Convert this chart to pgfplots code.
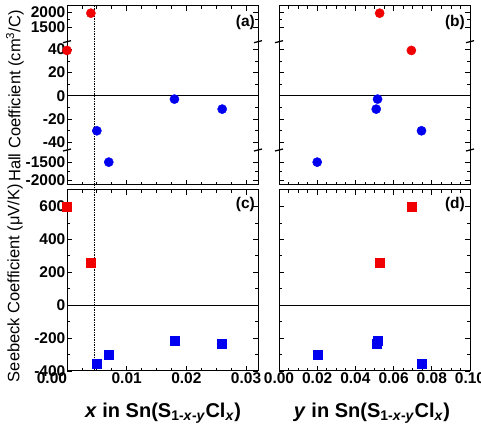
\documentclass[border=0pt]{standalone}
\usepackage{pgfplots}
\pgfplotsset{compat=1.18}
\usepackage{fontspec}
\setmainfont{Liberation Sans}
\definecolor{mred}{RGB}{240,0,0}
\definecolor{mblue}{RGB}{0,0,240}
\newcommand\tickfont{\fontsize{15.5}{16}\selectfont\bfseries}

\tikzset{
  brk/.style={line width=1.3pt},
  plab/.style={anchor=north east, inner sep=0pt, font=\tickfont},
}
\pgfplotsset{
  base/.style={scale only axis, width=191pt, clip=false, anchor=south west,
    tick align=inside, major tick length=5pt, minor tick length=3pt,
    tick style={black, line width=0.8pt},
    axis line style={line width=1pt},
    ticklabel style={font=\tickfont, inner sep=1.5pt},
    scaled x ticks=false, scaled y ticks=false,
    /pgf/number format/assume math mode=true,
    /pgf/number format/set thousands separator={},
  },
  frame/.style={base, ymin=0, ymax=1, ytick=\empty},
  seg/.style={base, xtick=\empty, axis line style={draw=none}, minor y tick num=1},
  xleft/.style={xmin=0, xmax=0.032, xtick={0,0.01,0.02,0.03}, minor x tick num=3},
  xright/.style={xmin=0, xmax=0.1, xtick={0,0.02,0.04,0.06,0.08,0.1}, minor x tick num=3},
  useg/.style={seg, height=35.7pt, ymin=990, ymax=2230, ytick={1500,2000}},
  mseg/.style={seg, height=108.3pt, ymin=-46.5, ymax=46.5, ytick={-40,-20,0,20,40}},
  lseg/.style={seg, height=35pt, ymin=-2125, ymax=-1153, ytick={-2000,-1500}},
  redcirc/.style={only marks, mark=*, mark size=4.6pt, draw=mred, fill=mred},
  bluecirc/.style={only marks, mark=*, mark size=4.6pt, draw=mblue, fill=mblue},
  redsq/.style={only marks, mark=square*, mark size=4.5pt, draw=mred, fill=mred},
  bluesq/.style={only marks, mark=square*, mark size=4.5pt, draw=mblue, fill=mblue},
}
\newcommand\breaks{%
  \draw[brk] ([xshift=-4pt,yshift=-1pt]rel axis cs:0,0.1955) -- ([xshift=4pt,yshift=1pt]rel axis cs:0,0.1955);
  \draw[brk] ([xshift=-4pt,yshift=-1pt]rel axis cs:1,0.1955) -- ([xshift=4pt,yshift=1pt]rel axis cs:1,0.1955);
  \draw[brk] ([xshift=-4pt,yshift=-1pt]rel axis cs:0,0.8006) -- ([xshift=4pt,yshift=1pt]rel axis cs:0,0.8006);
  \draw[brk] ([xshift=-4pt,yshift=-1pt]rel axis cs:1,0.8006) -- ([xshift=4pt,yshift=1pt]rel axis cs:1,0.8006);
}

\begin{document}
\begin{tikzpicture}
\useasboundingbox (0pt,0pt) rectangle (481pt,425pt);

% ---------- frames of top panels ----------
\begin{axis}[frame, xleft, at={(67pt,240pt)}, height=179pt, xticklabels={}]
  \draw[dash pattern=on 1.5pt off 1pt, line width=0.6pt] (axis cs:0.0046,0) -- (axis cs:0.0046,1);
  \breaks
  \node[plab] at ([xshift=-3pt,yshift=-9pt]rel axis cs:1,1) {(a)};
\end{axis}
\begin{axis}[frame, xright, at={(279pt,240pt)}, height=179pt, xticklabels={}]
  \breaks
  \node[plab] at ([xshift=-5pt,yshift=-9pt]rel axis cs:1,1) {(b)};
\end{axis}

% ---------- panel (a) segments ----------
\begin{axis}[useg, xleft, xtick=\empty, at={(67pt,383.3pt)}]
  \addplot[redcirc] coordinates {(0.004,1980)};
\end{axis}
\begin{axis}[mseg, xleft, xtick=\empty, at={(67pt,275pt)}]
  \draw[line width=0.8pt] (axis cs:0,0) -- (axis cs:0.032,0);
  \addplot[bluecirc] coordinates {(0.005,-30) (0.018,-2.8) (0.026,-11.4)};
  \addplot[redcirc] coordinates {(0,39)};
\end{axis}
\begin{axis}[lseg, xleft, xtick=\empty, at={(67pt,240pt)}]
  \addplot[bluecirc] coordinates {(0.007,-1490)};
\end{axis}

% ---------- panel (b) segments ----------
\begin{axis}[useg, xright, xtick=\empty, yticklabels={}, at={(279pt,383.3pt)}]
  \addplot[redcirc] coordinates {(0.0527,1980)};
\end{axis}
\begin{axis}[mseg, xright, xtick=\empty, yticklabels={}, at={(279pt,275pt)}]
  \draw[line width=0.8pt] (axis cs:0,0) -- (axis cs:0.1,0);
  \addplot[redcirc] coordinates {(0.0693,39)};
  \addplot[bluecirc] coordinates {(0.0516,-2.8) (0.0509,-11.4) (0.0746,-30)};
\end{axis}
\begin{axis}[lseg, xright, xtick=\empty, yticklabels={}, at={(279pt,240pt)}]
  \addplot[bluecirc] coordinates {(0.02,-1490)};
\end{axis}

% ---------- panel (c) ----------
\begin{axis}[base, xleft, at={(67pt,54pt)}, height=181pt, ymin=-400, ymax=700,
    ytick={-400,-200,0,200,400,600}, minor y tick num=1,
    xticklabels={\makebox[0pt][r]{0.00},0.01,0.02,0.03}]
  \draw[dash pattern=on 1.5pt off 1pt, line width=0.6pt] (axis cs:0.0046,-400) -- ([yshift=5.5pt]axis cs:0.0046,700);
  \draw[line width=0.8pt] (axis cs:0,0) -- (axis cs:0.032,0);
  \addplot[bluesq] coordinates {(0.005,-355) (0.007,-301) (0.018,-218) (0.026,-234)};
  \addplot[redsq] coordinates {(0,600) (0.004,258)};
  \node[plab] at ([xshift=-3pt,yshift=-7pt]rel axis cs:1,1) {(c)};
\end{axis}

% ---------- panel (d) ----------
\begin{axis}[base, xright, at={(279pt,54pt)}, height=181pt, ymin=-400, ymax=700,
    ytick={-400,-200,0,200,400,600}, minor y tick num=1, yticklabels={},
    xticklabels={0.00,0.02,0.04,0.06,0.08,0.10}]
  \draw[line width=0.8pt] (axis cs:0,0) -- (axis cs:0.1,0);
  \addplot[redsq] coordinates {(0.0693,600) (0.0527,258)};
  \addplot[bluesq] coordinates {(0.0509,-234) (0.0516,-218) (0.02,-301) (0.0746,-355)};
  \node[plab] at ([xshift=-5pt,yshift=-7pt]rel axis cs:1,1) {(d)};
\end{axis}

% ---------- axis titles ----------
\node[rotate=90, font=\fontsize{16.5}{18}\selectfont] at (15pt,329pt) {Hall Coefficient (cm\textsuperscript{3}/C)};
\node[rotate=90, font=\fontsize{16.5}{18}\selectfont] at (15pt,142pt) {Seebeck Coefficient (μV/K)};
\node[anchor=base, font=\fontsize{20}{22}\selectfont\bfseries] at (163pt,8pt)
  {\textit{x} in Sn(S\textsubscript{1-\textit{x}-\textit{y}}Cl\textsubscript{\textit{x}})};
\node[anchor=base, font=\fontsize{20}{22}\selectfont\bfseries] at (372pt,8pt)
  {\textit{y} in Sn(S\textsubscript{1-\textit{x}-\textit{y}}Cl\textsubscript{\textit{x}})};
\end{tikzpicture}
\end{document}
